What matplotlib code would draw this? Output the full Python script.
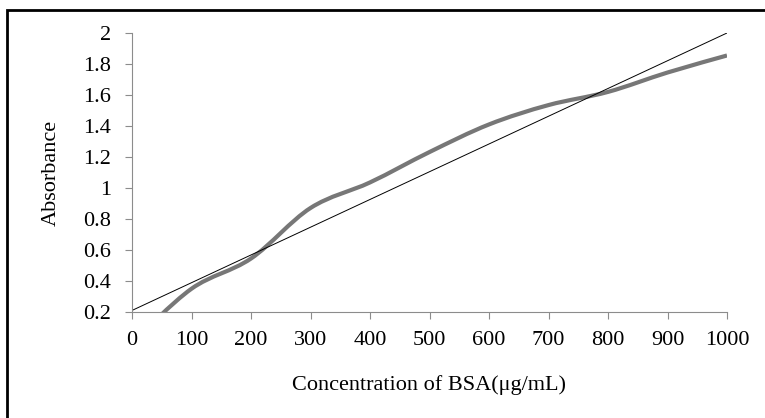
import matplotlib
matplotlib.use("Agg")
import matplotlib.pyplot as plt
from matplotlib.path import Path
from matplotlib.patches import PathPatch, Rectangle
import numpy as np

# dati
conc = [0, 100, 200, 300, 400, 500, 600, 700, 800, 900, 1000]
absorb = [0.0, 0.35, 0.545, 0.871, 1.036, 1.232, 1.41, 1.535, 1.62, 1.745, 1.855]
trend_x = [0, 1000]
trend_y = [0.21, 2.0]
x_ticks = [0, 100, 200, 300, 400, 500, 600, 700, 800, 900, 1000]
y_ticks = [0.2, 0.4, 0.6, 0.8, 1.0, 1.2, 1.4, 1.6, 1.8, 2.0]
y_tick_labels = ["0.2", "0.4", "0.6", "0.8", "1", "1.2", "1.4", "1.6", "1.8", "2"]

plt.rcParams['font.family'] = ['Liberation Serif', 'DejaVu Serif']

fig = plt.figure(figsize=(7.65, 4.18), dpi=100)
ax = fig.add_axes([132 / 765, 1 - 312 / 418, 595 / 765, 279 / 418])

# linea smussata stile Excel (bezier tipo Catmull-Rom)
pts = np.column_stack([conc, absorb])
verts = [pts[0]]
codes = [Path.MOVETO]
for i in range(len(pts) - 1):
    p0 = pts[i - 1] if i > 0 else pts[i]
    p1 = pts[i]
    p2 = pts[i + 1]
    p3 = pts[i + 2] if i + 2 < len(pts) else pts[i + 1]
    c1 = p1 + (p2 - p0) / 6
    c2 = p2 - (p3 - p1) / 6
    verts += [c1, c2, p2]
    codes += [Path.CURVE4] * 3
curve = PathPatch(Path(verts, codes), facecolor='none', edgecolor='#777777',
                  lw=3.0, capstyle='butt', joinstyle='round')
ax.add_patch(curve)

# linea di tendenza
ax.plot(trend_x, trend_y, color='black', lw=0.7)

ax.set_xlim(0, 1000)
ax.set_ylim(0.2, 2.0)
ax.set_xticks(x_ticks)
ax.set_yticks(y_ticks)
ax.set_yticklabels(y_tick_labels)

for s in ['top', 'right']:
    ax.spines[s].set_visible(False)
for s in ['left', 'bottom']:
    ax.spines[s].set_color('#8c8c8c')
    ax.spines[s].set_linewidth(0.8)
ax.tick_params(axis='both', direction='out', length=5, width=0.8, color='#8c8c8c',
               labelsize=16, labelcolor='black')
ax.tick_params(axis='y', pad=10)
ax.tick_params(axis='x', pad=9)

ax.set_xlabel('Concentration of BSA(\u03bcg/mL)', fontsize=16, labelpad=18)
ax.set_ylabel('Absorbance', fontsize=16, labelpad=16)

# bordo della figura (solo lati sinistro e superiore visibili)
fig.add_artist(Rectangle((7 / 765, -0.5), 2, 0.5 + (1 - 10 / 418),
                         transform=fig.transFigure, fill=False,
                         edgecolor='black', lw=2, clip_on=False))

fig.savefig('out.png', dpi=100)
